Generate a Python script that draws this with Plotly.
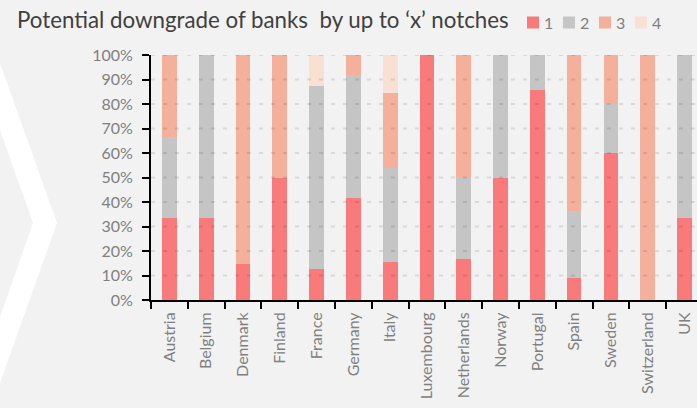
import plotly.graph_objects as go

countries = ["Austria", "Belgium", "Denmark", "Finland", "France", "Germany", "Italy",
             "Luxembourg", "Netherlands", "Norway", "Portugal", "Spain", "Sweden",
             "Switzerland", "UK"]
notch1 = [33.3, 33.3, 14.5, 50.0, 12.5, 41.7, 15.4, 100.0, 16.7, 50.0, 85.7, 9.1, 60.0, 0.0, 33.3]
notch2 = [33.4, 66.7, 0.0, 0.0, 75.0, 50.0, 38.5, 0.0, 33.3, 50.0, 14.3, 27.3, 20.0, 0.0, 66.7]
notch3 = [33.3, 0.0, 85.5, 50.0, 0.0, 8.3, 30.7, 0.0, 50.0, 0.0, 0.0, 63.6, 20.0, 100.0, 0.0]
notch4 = [0.0, 0.0, 0.0, 0.0, 12.5, 0.0, 15.4, 0.0, 0.0, 0.0, 0.0, 0.0, 0.0, 0.0, 0.0]
series_names = ["1", "2", "3", "4"]
series_values = [notch1, notch2, notch3, notch4]
colors = ["#F87A7A", "#C5C5C5", "#F5B09B", "#F8E0D3"]
y_ticks = [0, 10, 20, 30, 40, 50, 60, 70, 80, 90, 100]
y_tick_labels = ["0%", "10%", "20%", "30%", "40%", "50%", "60%", "70%", "80%", "90%", "100%"]
title_text = "Potential downgrade of banks \u00a0by up to \u2018x\u2019 notches"

W, H = 697, 408
ML, MR, MT, MB = 151, 0, 55, 108
PW, PH = W - ML - MR, H - MT - MB

def px(x):
    return (x - ML) / PW

def py(y):
    return (H - MB - y) / PH

FONT = "Lato"
GRAY = "#808080"

fig = go.Figure()
for name, vals, col in zip(series_names, series_values, colors):
    fig.add_trace(go.Bar(x=countries, y=vals, name=name, marker_color=col,
                         marker_line_width=0, width=0.4, showlegend=False))

shapes = []
# white chevron decoration
chev = [(0, 63), (57, 223), (0, 383), (0, 317), (33, 223), (0, 130)]
path = "M " + " L ".join(f"{px(a):.5f},{py(b):.5f}" for a, b in chev) + " Z"
shapes.append(dict(type="path", xref="paper", yref="paper", path=path,
                   fillcolor="white", line=dict(width=0), layer="below"))
# dashed gridlines above bars
for v in y_ticks[1:]:
    shapes.append(dict(type="line", xref="paper", yref="y", x0=0, x1=1, y0=v, y1=v,
                       line=dict(color="rgba(0,0,0,0.1)", width=2, dash="4px,8px"),
                       layer="above"))

annotations = []
# legend drawn manually (compact spacing as in reference)
for i, (name, col) in enumerate(zip(series_names, colors)):
    x0 = 527 + 36 * i
    shapes.append(dict(type="rect", xref="paper", yref="paper",
                       x0=px(x0), x1=px(x0 + 12), y0=py(28.5), y1=py(16.5),
                       fillcolor=col, line=dict(width=0), layer="above"))
    annotations.append(dict(xref="paper", yref="paper", x=px(x0 + 14.5), y=py(22.5),
                            text=name, showarrow=False, xanchor="left", yanchor="middle",
                            font=dict(family=FONT, size=16, color=GRAY)))

fig.update_layout(
    width=W, height=H,
    margin=dict(l=ML, r=MR, t=MT, b=MB, pad=0, autoexpand=False),
    paper_bgcolor="#F2F2F2", plot_bgcolor="#F2F2F2",
    barmode="stack", bargap=0.6,
    shapes=shapes, annotations=annotations,
    title=dict(text=title_text, x=17 / W, xanchor="left", xref="container",
               y=1 - 20 / H, yanchor="middle", yref="container",
               pad=dict(l=0, r=0, t=0, b=0), automargin=False,
               font=dict(family=FONT, size=22.3, color="#404040")),
    font=dict(family=FONT, color=GRAY),
    xaxis=dict(range=[-0.5, 14.34], showline=True, linecolor="black", linewidth=2,
               ticks="outside", ticklen=7, tickwidth=2, tickcolor="black",
               tickson="boundaries", tickangle=-90, showgrid=False, automargin=False,
               tickfont=dict(family=FONT, size=16, color=GRAY), ticklabelstandoff=4),
    yaxis=dict(range=[0, 100], tickvals=y_ticks, ticktext=y_tick_labels, showline=True,
               linecolor="black", linewidth=2, ticks="outside", ticklen=7, tickwidth=2,
               tickcolor="black", showgrid=False, zeroline=False, automargin=False,
               tickfont=dict(family=FONT, size=16, color=GRAY), ticklabelstandoff=6),
)

fig.write_html("out.html", config={"displayModeBar": False},
               post_script="document.body.style.margin='0';document.body.style.padding='0';")
